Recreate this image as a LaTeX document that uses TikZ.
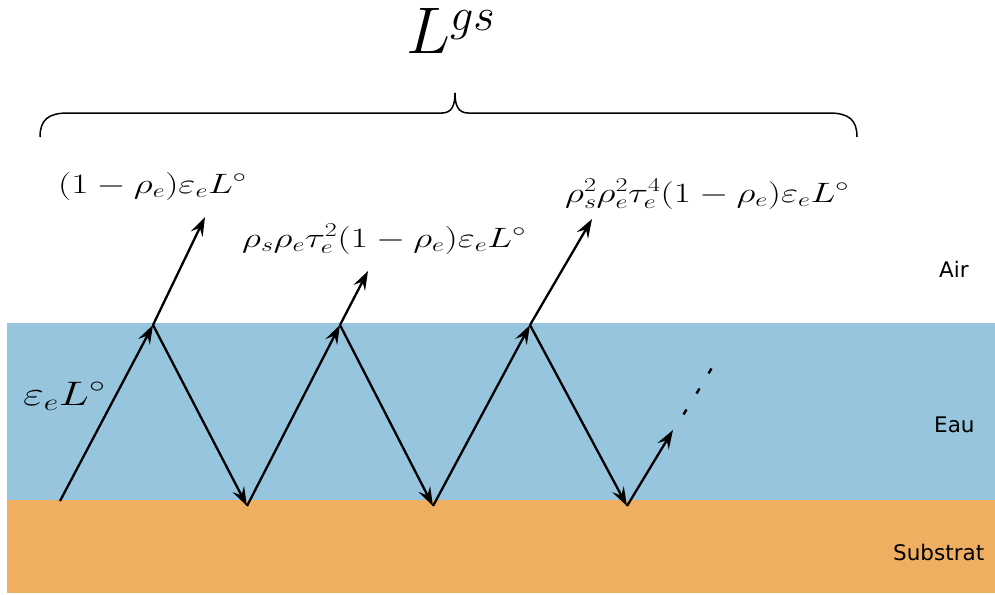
\RequirePackage{fix-cm}
\documentclass[tikz,border=0pt]{standalone}
\usepackage{graphicx}
\usepackage{fontspec}
\newfontfamily\labfont{DejaVu Sans}
\usetikzlibrary{arrows.meta,calc}
\definecolor{water}{HTML}{96C5DD}
\definecolor{subst}{HTML}{F0AF60}
\newcommand{\wide}[1]{\scalebox{1.33}[1]{#1}}
\tikzset{
  ray/.style={line width=2.3pt,-{Stealth[length=19pt,width=13pt,inset=7pt]}},
  layer/.style={font=\labfont\fontsize{21.5}{24}\selectfont,anchor=base west,inner sep=0pt},
  eq/.style={font=\fontsize{28}{32}\selectfont,inner sep=0pt,anchor=base west},
}
\begin{document}
\begin{tikzpicture}[x=1pt,y=-1pt]
\useasboundingbox (0,0) rectangle (995,594);
\fill[water] (7,323) rectangle (995,500);
\fill[subst] (7,500) rectangle (995,593);
% coordinates
\coordinate (s0) at (60,501);
\coordinate (t1) at (153,325);
\coordinate (b1) at (247,506);
\coordinate (t2) at (340,325);
\coordinate (b2) at (433,506);
\coordinate (t3) at (530,325);
\coordinate (b3) at (627,506);
\coordinate (u4) at (673,430);
\coordinate (e1) at (205,217);
\coordinate (e2) at (368,271);
\coordinate (e3) at (592,219);
\draw[ray] (s0) -- (t1);
\draw[ray] (t1) -- (b1);
\draw[ray] (b1) -- (t2);
\draw[ray] (t2) -- (b2);
\draw[ray] (b2) -- (t3);
\draw[ray] (t3) -- (b3);
\draw[ray] (b3) -- (u4);
\draw[ray] (t1) -- (e1);
\draw[ray] (t2) -- (e2);
\draw[ray] (t3) -- (e3);
\coordinate (d1) at (685,412);
\coordinate (d2) at (698,391);
\coordinate (d3) at (710,371);
\foreach \d in {d1,d2,d3}
  \draw[line width=2.4pt] ($(\d)+(-1.5,2.5)$) -- ($(\d)+(1.5,-2.5)$);
% labels
\node[eq,font=\fontsize{34}{38}\selectfont] (l0) at (23,405) {\wide{$\varepsilon_e L^\circ$}};
\node[eq] (l1) at (58,193) {\wide{$(1-\rho_e)\varepsilon_e L^\circ$}};
\node[eq] (l2) at (242,247) {\wide{$\rho_s\rho_e\tau_e^2(1-\rho_e)\varepsilon_e L^\circ$}};
\node[eq] (l3) at (565,202) {\wide{$\rho_s^2\rho_e^2\tau_e^4(1-\rho_e)\varepsilon_e L^\circ$}};
\node[font=\fontsize{66}{72}\selectfont,inner sep=0pt,anchor=base west] (lgs) at (406,54) {$L^{gs}$};
\node[layer] (air) at (939,277) {Air};
\node[layer] (eau) at (934,432) {Eau};
\node[layer] (sub) at (893,560) {Substrat};
% brace
\coordinate (bl) at (40,137);
\coordinate (br) at (857,137);
\coordinate (bt) at (455,93);
\draw[line width=1.5pt] (bl) .. controls ($(bl)+(0,-17)$) and ($(bl)+(8,-24)$) .. ($(bl)+(28,-24)$)
  -- ($(bt)+(-13,20)$) .. controls ($(bt)+(-3,20)$) and ($(bt)+(0,12)$) .. (bt)
  .. controls ($(bt)+(0,12)$) and ($(bt)+(3,20)$) .. ($(bt)+(13,20)$)
  -- ($(br)+(-28,-24)$) .. controls ($(br)+(-8,-24)$) and ($(br)+(0,-17)$) .. (br);
\end{tikzpicture}
\end{document}
